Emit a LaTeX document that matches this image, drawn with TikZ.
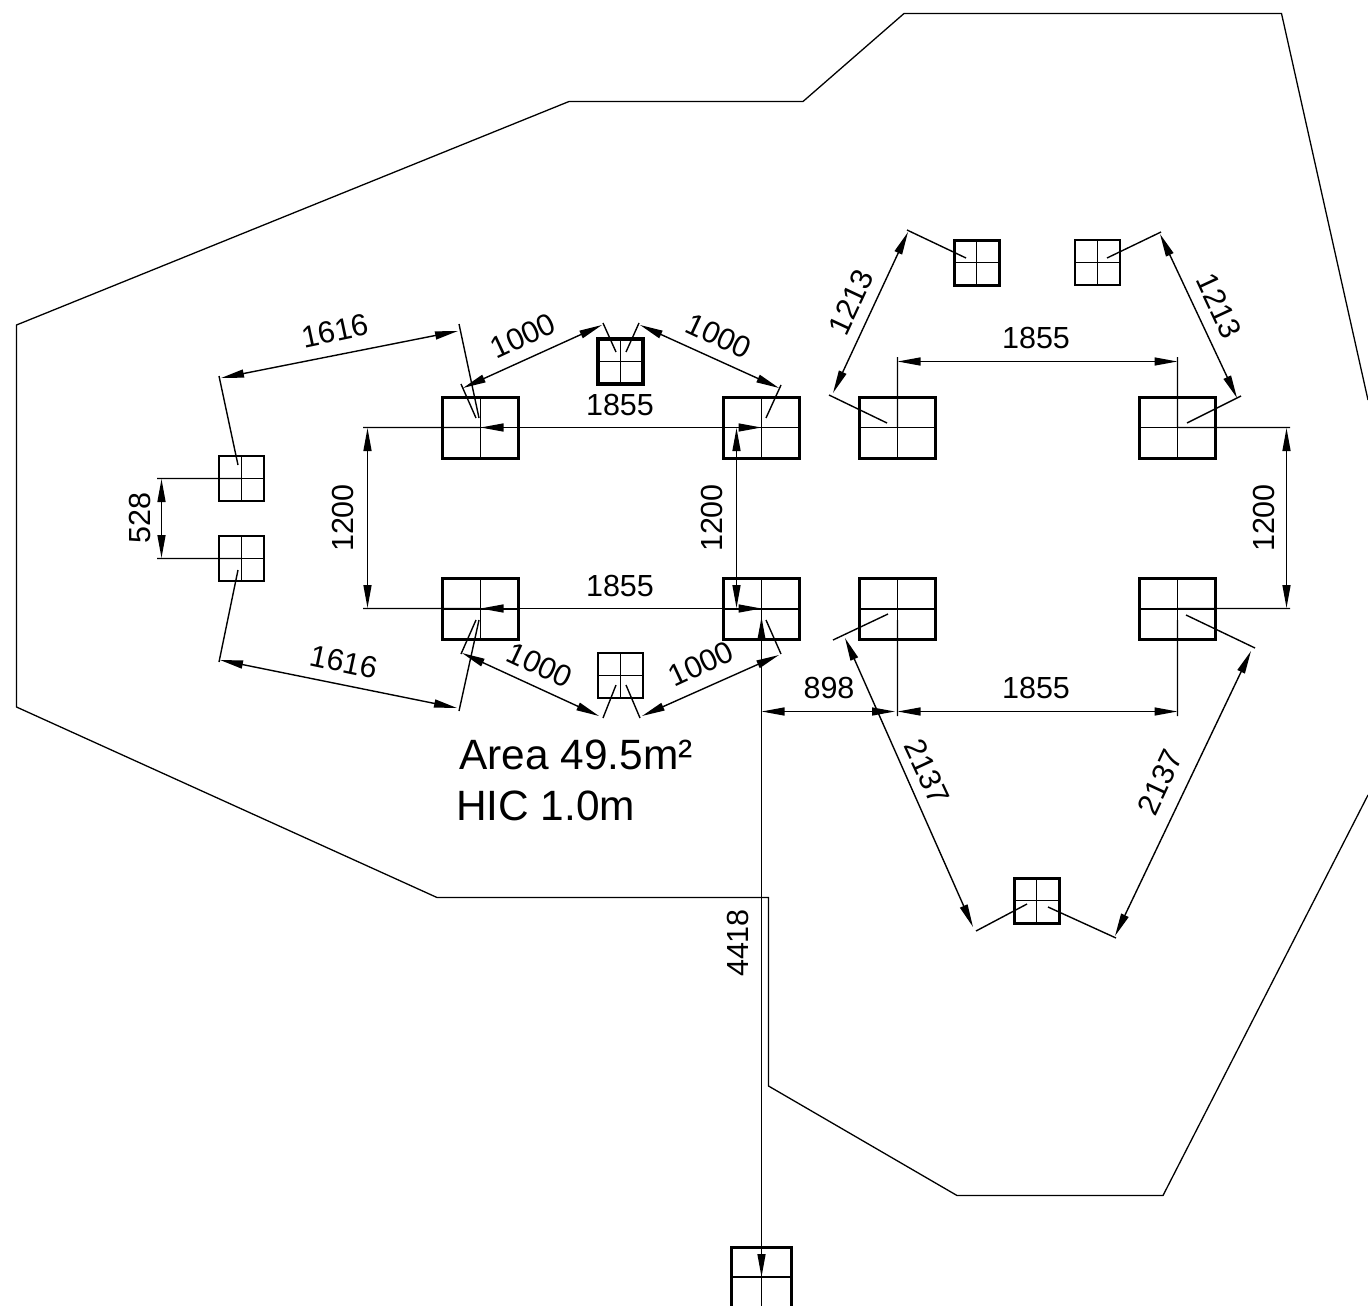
\documentclass[tikz,border=0pt]{standalone}
\usepackage{fontspec}
\setmainfont{Liberation Sans}
\usetikzlibrary{arrows.meta}
\tikzset{
  bigwin/.style={draw,line width=3pt,minimum width=76pt,minimum height=61pt,inner sep=0pt,outer sep=0pt},
  smallwin/.style={draw,line width=3pt,minimum width=45pt,minimum height=45pt,inner sep=0pt,outer sep=0pt},
  doorwin/.style={draw,line width=3pt,minimum width=60pt,minimum height=60pt,inner sep=0pt,outer sep=0pt},
  crossline/.style={line width=1.4pt},
  extline/.style={line width=1.4pt},
  dimline/.style={line width=1.4pt,{Triangle[length=23pt,width=8pt]}-{Triangle[length=23pt,width=8pt]}},
  outline/.style={line width=1.3pt,line join=miter},
  dimtext/.style={inner sep=0pt,font=\fontsize{30.5}{30.5}\selectfont},
  areatext/.style={inner sep=0pt,anchor=base west,font=\fontsize{42.4}{42.4}\selectfont}
}
\begin{document}
\begin{tikzpicture}[x=1pt,y=-1pt]
\useasboundingbox (0,0) rectangle (1368,1306);
% site outline
\draw[outline] (1368,400) -- (1281.5,13.5) -- (904,13.5) -- (803,101.5) -- (569,101.5) -- (16.5,325) -- (16.5,707) -- (437,897.5) -- (768.5,897.5) -- (768.5,1086) -- (957,1195.5) -- (1163,1195.5) -- (1368,795);
% windows
\foreach \n/\x/\y in {a/480.5/427.5,b/761.5/427.5,c/897.5/427.5,d/1177.5/427.5,e/480.5/609,f/761.5/609,g/897.5/609,h/1177.5/609}{
  \node[bigwin] (\n) at (\x,\y) {};
  \draw[crossline] (\n.west) -- (\n.east) (\n.north) -- (\n.south);
}
\foreach \n/\x/\y/\w in {i/620.5/361.5/3.4,j/976.5/262.5/3,k/1097.5/262.5/2.9,l/241.5/478.5/2.9,m/241.5/558.5/2.9,n/620.5/675.5/2.6,o/1036.5/900.5/3}{
  \node[smallwin,line width=\w pt] (\n) at (\x,\y) {};
  \draw[crossline] (\n.west) -- (\n.east) (\n.north) -- (\n.south);
}
\node[doorwin] (p) at (761.5,1277) {};
\draw[crossline] (p.west) -- (p.east) (p.north) -- (p.south);
% extension lines
\draw[extline] (219,376) -- (238,465)
  (459,324) -- (479,418)
  (461,384) -- (476,418)
  (603,323) -- (616,352)
  (639,323) -- (626,352)
  (781,385) -- (766,418)
  (363,427.5) -- (480,427.5)
  (363,608.5) -- (480,608.5)
  (157,478.5) -- (241,478.5)
  (157,558.5) -- (241,558.5)
  (238,570) -- (219,662)
  (479,620) -- (459,711)
  (476,620) -- (461,654)
  (616,685) -- (603,718)
  (626,685) -- (640,718)
  (766,620) -- (781,654)
  (887,423) -- (829,395)
  (966,258) -- (907,230)
  (1107,258) -- (1161,232)
  (1187,423) -- (1241,396)
  (897.5,357) -- (897.5,427)
  (1177.5,357) -- (1177.5,427)
  (1177,427.5) -- (1290,427.5)
  (1177,608.5) -- (1290,608.5)
  (897.5,620) -- (897.5,716)
  (1177.5,620) -- (1177.5,716)
  (888,614) -- (833,640)
  (1027,904) -- (976,931)
  (1186,615) -- (1255,648)
  (1048,907) -- (1116,938);
% dimension lines
\draw[dimline] (221,378) -- (458,331);
\draw[dimline] (463,388) -- (602,325);
\draw[dimline] (640,325) -- (779,388);
\draw[dimline] (480.5,427.5) -- (761.5,427.5);
\draw[dimline] (480.5,608.5) -- (761.5,608.5);
\draw[dimline] (367.5,428) -- (367.5,608);
\draw[dimline] (736.5,428) -- (736.5,608);
\draw[dimline] (1286.5,428) -- (1286.5,608);
\draw[dimline] (161.5,479) -- (161.5,558);
\draw[dimline] (220,660) -- (457,708);
\draw[dimline] (462,653) -- (599,716);
\draw[dimline] (779,655) -- (642,716);
\draw[dimline] (833,393) -- (908,232);
\draw[dimline] (1160,234) -- (1237,398);
\draw[dimline] (897.5,361.5) -- (1177.5,361.5);
\draw[dimline] (897.5,711.5) -- (1177.5,711.5);
\draw[dimline] (761.5,711.5) -- (895,711.5);
\draw[dimline] (761.5,617) -- (761.5,1277);
\draw[dimline] (845,638) -- (973,927);
\draw[dimline] (1251,651) -- (1115,936);
% labels
\node[dimtext,rotate=12] (t1) at (335,331) {1616};
\node[dimtext,rotate=25] (t2) at (523,336) {1000};
\node[dimtext,rotate=-25] (t3) at (719,336) {1000};
\node[dimtext] (t4) at (620,405) {1855};
\node[dimtext] (t5) at (620,586) {1855};
\node[dimtext,rotate=90] (t6) at (343,518) {1200};
\node[dimtext,rotate=90] (t7) at (712,518) {1200};
\node[dimtext,rotate=90] (t8) at (1264,518) {1200};
\node[dimtext,rotate=90] (t9) at (140,518) {528};
\node[dimtext,rotate=-12] (t10) at (344,662) {1616};
\node[dimtext,rotate=-25] (t11) at (540,665) {1000};
\node[dimtext,rotate=25] (t12) at (701,664) {1000};
\node[dimtext,rotate=65] (t13) at (851,302) {1213};
\node[dimtext,rotate=-65] (t14) at (1219,306) {1213};
\node[dimtext] (t15) at (1036,338) {1855};
\node[dimtext] (t16) at (1036,688) {1855};
\node[dimtext] (t17) at (829,688) {898};
\node[dimtext,rotate=90] (t18) at (738,943) {4418};
\node[dimtext,rotate=-65] (t19) at (927,772) {2137};
\node[dimtext,rotate=65] (t20) at (1160,782) {2137};
\node[areatext] (area) at (459,769) {Area 49.5m²};
\node[areatext] (hic) at (456,820) {HIC 1.0m};
\end{tikzpicture}
\end{document}
